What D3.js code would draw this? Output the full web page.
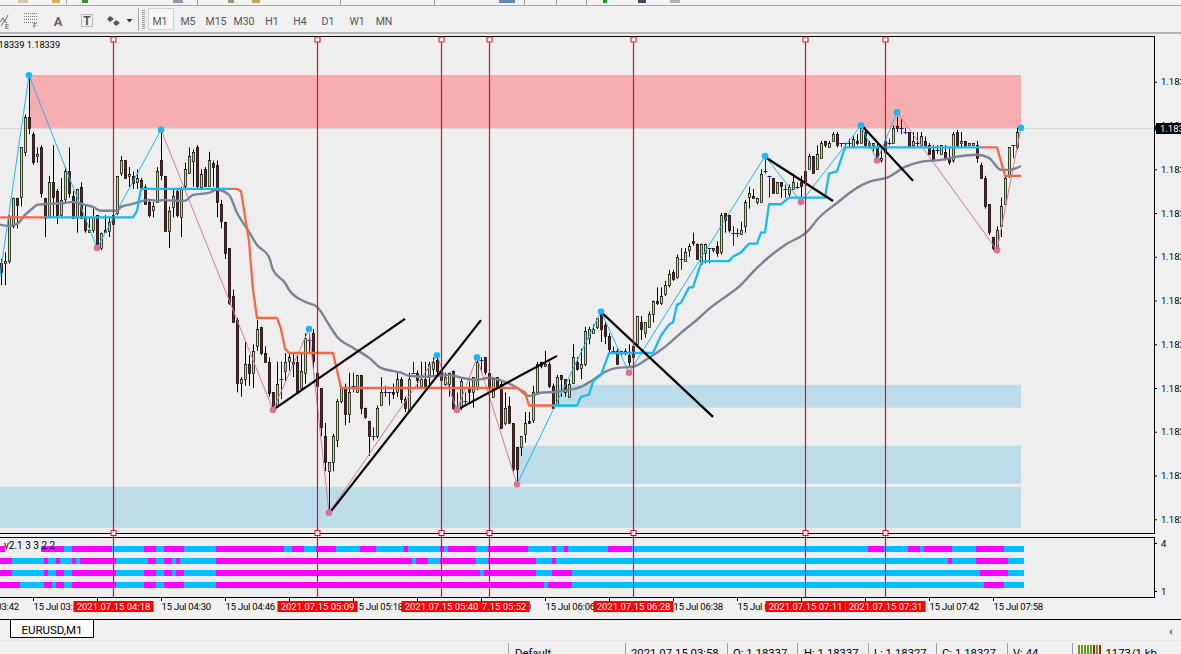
<!DOCTYPE html>
<html><head><meta charset="utf-8">
<script src="https://cdn.jsdelivr.net/npm/d3@7"></script>
<style>
html,body{margin:0;padding:0;background:#f0f0f0;overflow:hidden}
svg{display:block}
text{font-family:Roboto,"Liberation Sans",sans-serif}
</style></head><body>
<svg id="c" width="1181" height="654"></svg>
<script>
// Prices are stored in chart units: 20 units = one price-axis step (0.00015); unit 340 = 1.18340
const refUnit = 340, refPrice = 1.18340, unitSize = 0.0000075;
const opens = [
277,277,278,294,307,307,328,344,336,326, 330,307,298,314,310,299,306,319,308,298,
312,298,291,292,299,284,292,292,299,300, 318,324,317,317,314,315,312,305,301,305,
324,317,292,303,310,298,312,318,324,330, 312,320,312,323,322,304,296,284,262,251,
222,224,231,227,239,248,236,232,218,212, 224,228,232,232,232,220,227,242,245,227,
220,198,182,186,196,214,220,208,221,218, 226,211,205,198,198,212,218,218,218,218,
224,215,210,227,227,221,224,226,229,233, 228,222,222,228,211,211,214,220,218,220,
233,234,227,216,225,222,204,212,204,193, 193,199,205,205,218,232,230,231,221,212,
226,224,216,222,232,229,231,243,245,248, 254,249,244,237,237,236,237,235,239,240,
250,245,248,254,260,259,263,267,273,271, 279,278,283,287,286,277,282,284,283,285,
282,300,299,291,291,290,294,307,308,305, 305,319,317,316,309,314,311,309,311,312,
314,319,320,326,320,325,333,330,333,336, 332,332,332,331,333,332,337,331,331,330,
324,333,332,332,340,339,337,337,331,332, 331,333,331,329,329,327,328,325,324,337,
332,333,331,331,331,322,316,304,289,284, 294,304,317,331,330];
const highs = [
279,282,299,307,307,330,345,363,337,330, 331,307,317,331,311,316,321,330,310,311,
314,304,298,302,299,291,299,298,299,317, 326,324,321,319,320,316,313,306,305,321,
338,317,303,311,311,312,323,330,329,331, 320,321,328,324,324,306,296,284,265,252,
225,241,235,240,251,248,239,234,218,232, 232,236,236,236,235,236,245,245,247,227,
220,204,186,199,215,221,222,227,227,226, 226,211,205,202,212,225,221,218,222,227,
225,216,227,232,228,232,232,232,234,234, 230,227,227,228,218,225,218,223,225,233,
234,234,227,225,225,223,218,216,204,193, 198,209,209,221,232,232,237,232,222,226,
226,224,224,240,234,238,248,248,249,252, 255,250,245,239,238,237,238,240,241,253,
253,250,255,260,266,266,269,274,274,281, 284,284,286,291,286,286,286,284,284,287,
300,300,299,294,293,296,306,312,311,307, 320,325,317,316,314,314,313,313,318,314,
317,320,327,326,331,333,333,333,337,337, 332,332,334,335,336,341,339,333,332,332,
330,334,334,340,344,343,339,337,337,337, 337,335,332,331,331,331,331,330,337,338,
337,333,332,332,333,323,317,304,289,294, 307,317,330,331,339];
const lows = [
267,267,277,293,293,303,326,336,322,323, 307,289,298,298,295,298,305,307,298,291,
298,291,291,291,284,283,291,289,294,299, 317,316,312,311,311,311,304,298,298,305,
315,292,284,298,298,289,311,318,312,311, 311,312,312,312,298,293,279,258,250,218,
216,221,221,220,237,235,232,216,209,211, 215,223,228,225,218,219,222,236,229,215,
198,182,163,182,193,213,203,204,218,218, 208,206,189,196,197,212,216,212,215,216,
213,209,209,227,220,220,220,221,225,225, 221,221,216,210,210,210,212,213,211,219,
227,226,220,216,220,202,203,204,182,177, 189,195,204,204,218,229,230,220,211,212,
216,216,216,222,228,224,230,240,245,247, 241,240,236,236,231,235,235,230,229,239,
242,243,248,250,258,258,262,266,269,270, 274,278,280,285,279,277,277,277,282,280,
281,291,291,285,289,290,291,302,307,304, 305,318,307,309,309,307,307,307,311,311,
307,307,320,318,320,325,330,330,333,330, 330,329,330,330,331,332,330,330,328,323,
323,327,331,332,337,336,336,330,330,330, 330,330,327,325,327,327,324,322,323,330,
330,330,331,331,323,316,302,290,283,283, 289,304,316,325,329];
const closes = [
273,278,298,307,304,330,344,339,323,327, 309,298,314,307,299,306,319,309,298,311,
298,292,292,298,285,291,291,296,295,317, 324,316,318,314,316,312,304,299,303,319,
317,292,301,308,299,311,320,326,328,312, 318,312,324,321,305,296,282,259,250,222,
224,231,227,237,247,236,232,218,210,222, 224,232,234,231,218,228,243,242,232,221,
202,186,186,198,214,220,208,218,221,226, 211,207,198,198,211,218,218,218,217,224,
215,211,224,227,224,224,221,231,232,228, 224,225,227,211,211,223,214,218,225,232,
233,227,220,224,220,202,211,204,183,183, 198,204,204,218,231,230,231,221,211,225,
224,218,222,234,229,231,246,247,247,252, 247,244,238,237,231,237,236,232,234,253,
247,250,254,260,259,262,267,272,270,280, 279,282,285,286,279,286,286,284,284,282,
299,297,292,291,291,292,305,309,307,307, 318,319,317,309,314,312,311,312,314,312,
312,314,326,318,327,332,331,332,336,331, 332,332,332,334,332,339,331,332,332,325,
325,328,332,339,339,339,337,330,333,332, 335,331,327,325,329,331,325,323,336,331,
333,331,332,332,325,316,303,291,284,292, 303,316,330,331,337];

// Zigzag
const pivotIdx   = [-1,7,24,40,68,77,82,109,114,119,129,150,157,191,200,215,219,224,249,255];
const pivotPts   = [262,363,284,338,210,247,163,235,210,234,176,255,227,326,305,340,324,346,283,339];
const pivotKind  = ["","hi","lo","hi","lo","hi","lo","hi","lo","hi","lo","hi","lo","hi","lo","hi","lo","hi","lo","hi"];
const legTrend   = ["up","up","up","dn","dn","dn","dn","dn","dn","dn","up","up","up","up","up","up","up","dn","dn"];

// Step trailing line: segments
const stepOrange1 = {i:[-1,11], p:[298,298]};
const stepBlue1 = {i:[11,33,34,35,57], p:[298,298,301,311,311]};
const stepOrange2 = {i:[57,59,60,62,63,64,69,70,71,72,83,85,129,130,131,132,138], p:[311,311,310,287,265,252,252,247,238,236,236,220,220,219,218,212,212]};
const stepBlue2 = {i:[138,144,145,147,148,150,152,163,165,167,168,169,170,172,173,175,176,182,183,185,187,189,190,191,192,195,197,206,207,209,211,245],
  p:[212,212,216,217,223,226,236,236,244,249,250,258,259,266,266,277,278,278,280,282,286,286,291,291,304,304,307,307,318,319,330,330]};
const stepOrange3 = {i:[245,249,251,255], p:[330,330,317,317]};

// Moving average
const maIdx = [-1,2,4,6,8,9,12,16,18,21,23,25,29,30,33,37,39,41,43,46,48,52,54,57,59,62,64,67,68,71,72,76,79,82,84,88,92,95,100,102,106,109,112,115,119,122,126,129,132,135,139,145,148,151,154,158,162,166,170,174,177,180,185,188,192,196,202,204,209,214,217,222,226,230,235,239,244,247,250,252,255];
const maPts = [295,294.1,295,299.1,302.3,303.7,304.2,304.6,305.1,303.7,302.8,301,301,302.8,304.2,306,305.6,306,305.6,305.6,308.3,309.2,310.6,308.3,300.1,291.4,285.4,279.9,274,268.1,264.9,259.4,257.1,248.9,243.4,238.4,233.8,229.2,227,225.6,225.1,225.6,226,224.7,223.7,224.7,222.8,220.1,216.4,217.8,218.3,220.5,223.7,227.4,229.2,229.7,233.8,238.8,245.2,251.2,256.2,260.3,267.1,273.1,279.9,285.4,292.3,296.9,304.6,311.5,314.2,316.5,321.1,323.4,324.3,325.7,326.6,325.2,319.7,319.7,321.5];

// Trend lines
const trendStartIdx = [68,82,114,150,191,215];
const trendStartPts = [210,162.5,210,254.8,325.6,340.3];
const trendEndIdx   = [101,120,139,178,208,228];
const trendEndPts   = [251.6,251,234.7,206.8,305.5,314.7];

// Zones
const zoneStart = [7,-1,129,138.5];
const zoneEnd   = [255,255,255,255];
const zoneHigh  = [363.1,174.8,193.6,221.5];
const zoneLow   = [338.9,156.1,176.2,211];
const zoneKind  = ["supply","demand","demand","demand"];

// Vertical time lines
const markIdx = [28,79,110,122,158,201,221];
const markLabels = ["2021.07.15 04:18","2021.07.15 05:09","2021.07.15 05:40","2021.07.15 05:52","2021.07.15 06:28","2021.07.15 07:11","2021.07.15 07:31"];

// Time axis
const timeTickIdx = [-8,8,24,40,56,72,88,104,120,136,152,168,184,200,216,232,248];
const timeTickLabels = ["15 Jul 03:42","15 Jul 03:58","15 Jul 04:14","15 Jul 04:30","15 Jul 04:46","15 Jul 05:02","15 Jul 05:18","15 Jul 05:34","15 Jul 05:50","15 Jul 06:06","15 Jul 06:22","15 Jul 06:38","15 Jul 06:54","15 Jul 07:10","15 Jul 07:26","15 Jul 07:42","15 Jul 07:58"];
const priceTickUnits = [360,340,320,300,280,260,240,220,200,180,160];
const lastUnit = 339;

// Strength strips: candle index where colour flips, starting magenta
const stripRow4 = [16,18,28,36,39,41,46,54,71,73,76,79,84,90,94,101,102,110,111,112,119,122,132,138,139,141,142,152,158,217,221,227,230,231,238,244,251,256];
const stripRow3 = [3,11,12,14,15,18,19,20,29,37,39,41,43,44,45,54,103,104,107,110,119,122,134,138,139,237,238,244,252,256];
const stripRow2 = [3,11,12,14,16,18,29,36,39,41,43,44,46,54,120,121,134,138,143,245,252,256];
const stripRow1 = [5,11,13,14,16,18,29,36,39,41,46,54,136,137,143,246,251,256];
const stripRows = [4,3,2,1];
const stripFlips = [stripRow4,stripRow3,stripRow2,stripRow1];

const toolbarLabels = ["M1","M5","M15","M30","H1","H4","D1","W1","MN"];
const statusLabels = ["Default","2021.07.15 03:58","O: 1.18337","H: 1.18337","L: 1.18327","C: 1.18327","V: 44","1173/1 kb"];

const COL = {bg:"#eeeeee",green:"#b4e65c",red:"#8c0e12",doji:"#14148c",blue:"#1bb8f2",orange:"#f2694a",ma:"#7b8494",
  zig:"#25b8e6",zigDn:"#d8799c",hi:"#1bb8f4",lo:"#dd7096",supply:"#f5adb0",demand:"#bcdcea",vline:"#e01218",mag:"#ff00ff",cy:"#00bfff"};

const price = p => refPrice + (p-refUnit)*unitSize;
const fmt = d3.format(".5f");
const svg = d3.select("#c");
const x = d3.scaleLinear().domain([0,254]).range([1,1017]);
const y = d3.scaleLinear().domain([price(160),price(360)]).range([519.25,81.75]);
const X = i => x(i)+0.5;

// window background
svg.append("rect").attr("width",1181).attr("height",654).attr("fill","#f0f0f0");

// clip
svg.append("defs").append("clipPath").attr("id","main").append("rect").attr("x",0).attr("y",37).attr("width",1154).attr("height",497);

// toolbar
const tb = svg.append("g");
tb.append("rect").attr("x",0).attr("y",0).attr("width",1181).attr("height",5).attr("fill","#f3f3f3");
tb.append("line").attr("x1",0).attr("x2",1181).attr("y1",5.5).attr("y2",5.5).attr("stroke","#a8a8a8");
tb.append("line").attr("x1",0).attr("x2",1181).attr("y1",33).attr("y2",33).attr("stroke","#a0a0a0").attr("stroke-width",1.5);
[[66,"#b0b0b0"],[197,"#9a9a9a"],[340,"#9a9a9a"],[434,"#9a9a9a"],[524,"#9a9a9a"],[556,"#9a9a9a"],[586,"#9a9a9a"]].forEach(([a,c])=>tb.append("line").attr("x1",a+.5).attr("x2",a+.5).attr("y1",0).attr("y2",5).attr("stroke",c));
[[18,10,"#d9c9a8"],[52,8,"#d8b050"],[82,6,"#2f9a30"],[173,10,"#9098b0"],[228,6,"#88a070"],[252,8,"#c8a060"],[499,16,"#5d88b0"],[603,4,"#18a020"],[638,8,"#3b4a5e"],[670,10,"#b0b0b0"]].forEach(([a,w,c])=>tb.append("rect").attr("x",a).attr("y",0).attr("width",w).attr("height",3).attr("fill",c));
tb.append("rect").attr("x",148.5).attr("y",8.5).attr("width",25).attr("height",21).attr("fill","#f7f7f7").attr("stroke","#d0d0d0");
tb.append("line").attr("x1",138.5).attr("x2",138.5).attr("y1",8).attr("y2",31).attr("stroke","#a6a6a6");
d3.range(10,29,2).forEach(v=>tb.append("rect").attr("x",142).attr("y",v).attr("width",3).attr("height",1).attr("fill","#9a9a9a"));
const tbX = [160,188,216,244,272,300,328,357,384];
tb.selectAll("text.tf").data(toolbarLabels).join("text").attr("class","tf").attr("x",(d,i)=>tbX[i]).attr("y",24.5)
  .attr("text-anchor","middle").attr("font-size",10.5).attr("fill","#555").text(d=>d);
tb.append("path").attr("d","M0 22l3-4 2 3 3-6M1 26l3-5 3 2").attr("fill","none").attr("stroke","#666");
tb.append("text").attr("x",5).attr("y",29).attr("font-size",7).attr("fill","#444").text("E");
d3.range(0,4).forEach(r=>tb.append("line").attr("x1",24).attr("x2",37).attr("y1",13.5+r*3).attr("y2",13.5+r*3).attr("stroke","#777").attr("stroke-dasharray","1 1"));
tb.append("text").attr("x",33).attr("y",28).attr("font-size",7).attr("fill","#444").text("F");
tb.append("text").attr("x",58).attr("y",26).attr("text-anchor","middle").attr("font-size",13).attr("font-weight",700).attr("fill","#666").text("A");
tb.append("rect").attr("x",81.5).attr("y",14.5).attr("width",11).attr("height",12).attr("fill","none").attr("stroke","#888").attr("stroke-dasharray","1 1");
tb.append("text").attr("x",87).attr("y",25).attr("text-anchor","middle").attr("font-size",12).attr("font-weight",700).attr("fill","#555").text("T");
tb.append("path").attr("d","M110 16l4 3-4 3-3-3zM116 20l4 3-4 3-3-3z").attr("fill","#555");
tb.append("path").attr("d","M126.5 19h6l-3 3.5z").attr("fill","#333");

// main pane
svg.append("rect").attr("x",-1).attr("y",36.5).attr("width",1155.5).attr("height",497).attr("fill",COL.bg);
const g = svg.append("g").attr("clip-path","url(#main)");

// zones
g.selectAll("rect.zone").data(zoneStart).join("rect").attr("class","zone")
  .attr("x",(d,i)=>x(d)).attr("width",(d,i)=>x(zoneEnd[i])-x(d))
  .attr("y",(d,i)=>y(price(zoneHigh[i]))).attr("height",(d,i)=>y(price(zoneLow[i]))-y(price(zoneHigh[i])))
  .attr("fill",(d,i)=>zoneKind[i]==="supply"?COL.supply:COL.demand);

// bid line
g.append("line").attr("x1",0).attr("x2",1154).attr("y1",Math.round(y(price(lastUnit)))+.5).attr("y2",Math.round(y(price(lastUnit)))+.5).attr("stroke","#d9d9d9");

// candles
const cg = g.append("g");
opens.forEach((o,i)=>{
  const h=highs[i],l=lows[i],c=closes[i];
  const isDoji = o===c, up = c>o;
  const col = isDoji?COL.doji:"#000";
  cg.append("line").attr("x1",X(i)).attr("x2",X(i)).attr("y1",y(price(h))).attr("y2",y(price(l))).attr("stroke",col);
  if(isDoji){
    cg.append("line").attr("x1",X(i)-2).attr("x2",X(i)+2).attr("y1",Math.round(y(price(o)))+.5).attr("y2",Math.round(y(price(o)))+.5).attr("stroke",col);
  } else {
    const t=y(price(Math.max(o,c))), b=y(price(Math.min(o,c)));
    cg.append("rect").attr("x",X(i)-1.1).attr("width",2.2).attr("y",Math.round(t)+.5).attr("height",Math.max(1,Math.round(b-t)))
      .attr("fill",up?COL.green:COL.red).attr("stroke","#000").attr("stroke-width",.7);
  }
});

// zigzag
const zigLine = (a,b)=>g.append("line").attr("x1",x(pivotIdx[a])).attr("y1",y(price(pivotPts[a]))).attr("x2",x(pivotIdx[b])).attr("y2",y(price(pivotPts[b])));
legTrend.forEach((t,k)=>zigLine(k,k+1).attr("stroke",t==="up"?COL.zig:COL.zigDn).attr("stroke-width",1));

// moving average and step line
const ln = d3.line().x(d=>x(d[0])).y(d=>y(price(d[1])));
const pair = s => s.i.map((v,k)=>[v,s.p[k]]);
g.append("path").attr("d",d3.line().x(d=>x(d[0])).y(d=>y(price(d[1]))).curve(d3.curveMonotoneX)(maIdx.map((v,k)=>[v,maPts[k]])))
  .attr("fill","none").attr("stroke",COL.ma).attr("stroke-width",2.4);
[[stepOrange1,COL.orange],[stepBlue1,COL.blue],[stepOrange2,COL.orange],[stepBlue2,COL.blue],[stepOrange3,COL.orange]].forEach(([s,c])=>
  g.append("path").attr("d",ln(pair(s))).attr("fill","none").attr("stroke",c).attr("stroke-width",2.3).attr("stroke-linejoin","round"));

// trend lines
g.selectAll("line.tr").data(trendStartIdx).join("line").attr("class","tr")
  .attr("x1",d=>x(d)).attr("y1",(d,i)=>y(price(trendStartPts[i]))).attr("x2",(d,i)=>x(trendEndIdx[i])).attr("y2",(d,i)=>y(price(trendEndPts[i])))
  .attr("stroke","#000").attr("stroke-width",2.2);

// pivots
pivotIdx.forEach((v,k)=>{ if(!pivotKind[k])return;
  g.append("circle").attr("cx",x(v)).attr("cy",y(price(pivotPts[k]))).attr("r",3.3).attr("fill",pivotKind[k]==="hi"?COL.hi:COL.lo);
});

// frame + price axis
svg.append("rect").attr("x",-1).attr("y",36.5).attr("width",1155.5).attr("height",497).attr("fill","none").attr("stroke","#000");
const pAxis = svg.append("g").attr("transform","translate(1154,0)")
  .call(d3.axisRight(y).tickValues(priceTickUnits.map(price)).tickFormat(fmt).tickSize(3).tickPadding(4));
pAxis.select(".domain").remove();
pAxis.selectAll("text").attr("font-size",9.5).attr("font-family","Roboto").attr("fill","#000");
svg.append("rect").attr("x",1156).attr("y",123).attr("width",25).attr("height",11).attr("fill","#000");
svg.append("text").attr("x",1160).attr("y",132).attr("font-size",9.5).attr("fill","#fff").text(fmt(price(lastUnit)));
svg.append("path").attr("d","M1154.5 125.5l3 3-3 3z").attr("fill","#000");

// top-left quote
svg.append("text").attr("x",-9).attr("y",48).attr("font-size",9.2).attr("fill","#000").text(fmt(price(lastUnit))+" "+fmt(price(lastUnit)));

// sub pane
svg.append("rect").attr("x",-1).attr("y",537.5).attr("width",1155.5).attr("height",60).attr("fill",COL.bg).attr("stroke","#000");
const rowBand = d3.scaleBand().domain(stripRows).range([543,591]);
stripFlips.forEach((fl,r)=>{
  const starts=[-1].concat(fl.slice(0,-1));
  starts.forEach((s,k)=>{
    svg.append("rect").attr("x",x(s)-1).attr("width",x(fl[k])-x(s))
      .attr("y",rowBand(stripRows[r])+3).attr("height",6)
      .attr("fill",k%2===0?COL.mag:COL.cy);
  });
});
const sAxisScale = d3.scaleLinear().domain([1,4]).range([591,543]);
const sAxis = svg.append("g").attr("transform","translate(1154,0)").call(d3.axisRight(sAxisScale).tickValues([1,4]).tickFormat(d3.format("d")).tickSize(3).tickPadding(4));
sAxis.select(".domain").remove();
sAxis.selectAll("text").attr("font-size",9.5).attr("font-family","Roboto").attr("fill","#000");
svg.append("rect").attr("x",5).attr("y",540).attr("width",36).attr("height",13).attr("fill",COL.bg);
svg.append("text").attr("x",4).attr("y",549).attr("font-size",10).attr("fill","#000").text("v2.1 3 3 2 2");

// vertical lines through both panes, above the strips
const vg = svg.append("g");
vg.selectAll("line").data(markIdx).join("line").attr("x1",d=>X(d)).attr("x2",d=>X(d)).attr("y1",37).attr("y2",597).attr("stroke",COL.vline).attr("stroke-width",1.2);
[39.5,533].forEach(yy=>vg.selectAll(null).data(markIdx).join("rect").attr("x",d=>X(d)-2.5).attr("y",yy-2.5).attr("width",5).attr("height",5).attr("fill","#fff").attr("fill-opacity",.9).attr("stroke",COL.vline));

// time axis
const tAxis = svg.append("g").attr("transform","translate(0,597)")
  .call(d3.axisBottom(x).tickValues(timeTickIdx).tickFormat((d,i)=>timeTickLabels[i]).tickSize(4).tickPadding(2));
tAxis.select(".domain").remove();
tAxis.selectAll("text").attr("text-anchor","start").attr("font-size",9.5).attr("font-family","Roboto").attr("letter-spacing","-0.2px").attr("fill","#000");

// red time labels — earliest drawn last so it stays on top
d3.range(markIdx.length-1,-1,-1).forEach(k=>{
  const c=X(markIdx[k]);
  svg.append("rect").attr("x",c-40).attr("y",601).attr("width",80).attr("height",11).attr("fill","#ff0000");
  svg.append("text").attr("x",c).attr("y",610).attr("text-anchor","middle").attr("font-size",9.5).attr("fill","#fff").text(markLabels[k]);
});

// tab bar
svg.append("line").attr("x1",0).attr("x2",1181).attr("y1",619.5).attr("y2",619.5).attr("stroke","#000");
svg.append("path").attr("d","M10.5 620v17.5h83V620").attr("fill","#fff").attr("stroke","#000");
svg.append("text").attr("x",52).attr("y",634).attr("text-anchor","middle").attr("font-size",11.5).attr("fill","#000").text("EURUSD,M1");
svg.append("line").attr("x1",0).attr("x2",1181).attr("y1",640.5).attr("y2",640.5).attr("stroke","#e6e6e6");
svg.append("path").attr("d","M1172 629v6l-3-3z").attr("fill","#888");

// status bar
const stSep = [508.5,625.5,727.5,797.5,868.5,936.5,1007.5,1072.5];
const stX = [515,631,733,804,874,942,1013,1105.5];
stSep.forEach(v=>svg.append("line").attr("x1",v).attr("x2",v).attr("y1",643).attr("y2",654).attr("stroke","#a0a0a0"));
svg.selectAll("text.st").data(statusLabels).join("text").attr("class","st").attr("x",(d,i)=>stX[i]).attr("y",657).attr("font-size",11.3).attr("fill","#000").text(d=>d);
const barCols = ["#6a9a1e","#6a9a1e","#6a9a1e","#6a9a1e","#6a9a1e","#8a2a10","#6a9a1e","#8a2a10"];
barCols.forEach((c,k)=>svg.append("rect").attr("x",1078+k*3).attr("y",645).attr("width",2).attr("height",9).attr("fill",c));
</script>
</body></html>
